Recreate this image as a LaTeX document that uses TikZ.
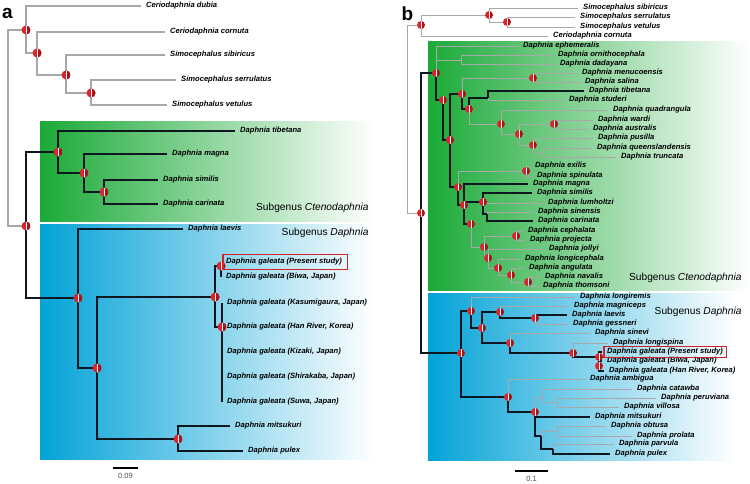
\documentclass[tikz,border=0pt]{standalone}
\usepackage{fontspec}
\setmainfont{Liberation Sans}
\definecolor{ppred}{HTML}{D8262C}
\definecolor{ppdark}{HTML}{A5161C}
\definecolor{gbranch}{HTML}{A8A8A8}
\definecolor{kbranch}{HTML}{0E1620}
\definecolor{ctgreen}{HTML}{1BAA38}
\definecolor{dpblue}{HTML}{03A3D7}
\definecolor{boxred}{HTML}{D2232A}
\tikzset{
  gb/.style={draw=gbranch, line width=1.1pt},
  kb/.style={draw=kbranch, line width=1.5pt},
  pp/.style={circle, inner sep=0pt, minimum size=8pt, fill=ppred, path picture={
      \fill[ppdark] ([xshift=0.6pt]path picture bounding box.north) rectangle (path picture bounding box.south east);
      \draw[white, line width=0.5pt] ([xshift=0.6pt]path picture bounding box.north) -- ([xshift=0.6pt]path picture bounding box.south);}},
  lf/.style={anchor=west, inner xsep=5pt, inner ysep=1pt, font=\fontsize{7.6}{8}\selectfont\bfseries\itshape},
  sg/.style={anchor=east, font=\fontsize{10.2}{12}\selectfont},
  redbox/.style={draw=boxred, line width=1.1pt},
}
\begin{document}
\begin{tikzpicture}[x=1pt, y=-1pt]
	\useasboundingbox (0,0) rectangle (750,483);
	% backgrounds
	\shade[left color=ctgreen, right color=white] (40,121) rectangle (375,221);
	\shade[left color=dpblue, right color=white] (40,224) rectangle (375,459);
	\shade[left color=ctgreen, right color=white] (428,41) rectangle (750,290);
	\shade[left color=dpblue, right color=white] (428,293) rectangle (735,460);

	% ---- a ----
	\node[font=\fontsize{19}{19}\selectfont\bfseries] (pa) at (7.5,13.5) {a};
	\coordinate (aRoot) at (8,128);
	\coordinate (aO1) at (26,30);   \coordinate (aO2) at (37,53);
	\coordinate (aO3) at (66,75);   \coordinate (aO4) at (91,93);
	\coordinate (aDG) at (26,226);
	\coordinate (aC1) at (58,152);  \coordinate (aC2) at (84,173);  \coordinate (aC3) at (104,192);
	\coordinate (aD1) at (78,298);  \coordinate (aD2) at (97,368);  \coordinate (aD3) at (215,297);
	\coordinate (aD4) at (178,439); \coordinate (aD5) at (221,266); \coordinate (aD6) at (222,327);

	\node[lf] (aDub) at (141,6) {Ceriodaphnia dubia};
	\node[lf] (aCor) at (165,32) {Ceriodaphnia cornuta};
	\node[lf] (aSib) at (165,55) {Simocephalus sibiricus};
	\node[lf] (aSer) at (176,80) {Simocephalus serrulatus};
	\node[lf] (aVet) at (167,105) {Simocephalus vetulus};
	\node[lf] (aTib) at (235,131) {Daphnia tibetana};
	\node[lf] (aMag) at (167,154) {Daphnia magna};
	\node[lf] (aSim) at (158,180) {Daphnia similis};
	\node[lf] (aCar) at (158,204) {Daphnia carinata};
	\node[lf] (aLae) at (183,229) {Daphnia laevis};
	\node[lf] (aPre) at (221,262) {Daphnia galeata (Present study)};
	\node[lf] (aBiw) at (221,277) {Daphnia galeata (Biwa, Japan)};
	\node[lf] (aKas) at (222,303) {Daphnia galeata (Kasumigaura, Japan)};
	\node[lf] (aHan) at (222,327) {Daphnia galeata (Han River, Korea)};
	\node[lf] (aKiz) at (222,352) {Daphnia galeata (Kizaki, Japan)};
	\node[lf] (aShi) at (222,377) {Daphnia galeata (Shirakaba, Japan)};
	\node[lf] (aSuw) at (222,402) {Daphnia galeata (Suwa, Japan)};
	\node[lf] (aMit) at (230,426) {Daphnia mitsukuri};
	\node[lf] (aPul) at (243,451) {Daphnia pulex};

	\draw[gb] (aRoot) |- (aO1) (aRoot) |- (aDG)
		(aO1) |- (aDub.west) (aO1) |- (aO2) (aO2) |- (aCor.west) (aO2) |- (aO3)
		(aO3) |- (aSib.west) (aO3) |- (aO4) (aO4) |- (aSer.west) (aO4) |- (aVet.west);
	\draw[kb] (aDG) |- (aC1) (aDG) |- (aD1)
		(aC1) |- (aTib.west) (aC1) |- (aC2) (aC2) |- (aMag.west) (aC2) |- (aC3)
		(aC3) |- (aSim.west) (aC3) |- (aCar.west)
		(aD1) |- (aLae.west) (aD1) |- (aD2) (aD2) |- (aD3) (aD2) |- (aD4)
		(aD3) |- (aD5) (aD3) |- (aD6) (aD5) |- (aPre.west) (aD5) |- (aBiw.west)
		(aD6) |- (aKas.west) (aD6) |- (aHan.west) (aD6) |- (aKiz.west)
		(aD6) |- (aShi.west) (aD6) |- (aSuw.west)
		(aD4) |- (aMit.west) (aD4) |- (aPul.west);
	\foreach \n in {aO1,aO2,aO3,aO4,aDG,aC1,aC2,aC3,aD1,aD2,aD3,aD4,aD5,aD6}
		\node[pp, minimum size=9pt] (m\n) at (\n) {};
	\draw[redbox] ([xshift=2pt,yshift=-2.5pt]aPre.south west) rectangle ([yshift=2.5pt]aPre.north east);

	\node[sg] (aSgC) at (372,208) {Subgenus \textit{Ctenodaphnia}};
	\node[sg] (aSgD) at (372,233) {Subgenus \textit{Daphnia}};

	\coordinate (aS1) at (113,468); \coordinate (aS2) at (138,468);
	\draw[line width=1.2pt] (aS1) -- (aS2) node[midway, below=1.5pt, text=black!70, font=\fontsize{7.5}{8}\selectfont] (aScl) {0.09};

	% ---- b ----
	\node[font=\fontsize{19}{19}\selectfont\bfseries] (pb) at (407.5,13.5) {b};
	\coordinate (bRoot) at (407,119);
	\coordinate (bB1) at (421,25);  \coordinate (bB2) at (489,15);  \coordinate (bB3) at (507,22);
	\coordinate (bB0) at (421,213);
	\coordinate (bG1) at (436,73);  \coordinate (bOD) at (461,60);  \coordinate (bG2) at (443,100);
	\coordinate (bG3) at (450,140); \coordinate (bT1) at (462,94);  \coordinate (bM) at (533,78);
	\coordinate (bT2) at (469,109); \coordinate (bTS) at (488,98);  \coordinate (bQ1) at (501,124);
	\coordinate (bQ2) at (519,134); \coordinate (bWA) at (554,124); \coordinate (bQ3) at (533,145);
	\coordinate (bQT) at (543,152); \coordinate (bC1) at (458,187); \coordinate (bEX) at (526,171);
	\coordinate (bC2) at (464,205); \coordinate (bSL) at (483,202); \coordinate (bSC) at (487,214);
	\coordinate (bC3) at (471,224); \coordinate (bP1) at (484,247); \coordinate (bCP) at (516,236);
	\coordinate (bP2) at (488,258); \coordinate (bP3) at (498,268); \coordinate (bP4) at (511,275);
	\coordinate (bP5) at (528,282);
	\coordinate (bH1) at (461,353); \coordinate (bL1) at (471,311); \coordinate (bL2) at (482,328);
	\coordinate (bL3) at (500,312); \coordinate (bLG) at (535,318); \coordinate (bL4) at (510,343);
	\coordinate (bL5) at (573,353); \coordinate (bG) at (599,357);  \coordinate (bGB) at (599,366);
	\coordinate (bA1) at (508,397); \coordinate (bA2) at (535,412); \coordinate (bCPV) at (543,397);
	\coordinate (bPV) at (557,402); \coordinate (bA3) at (541,436); \coordinate (bOP) at (557,431);
	\coordinate (bPP) at (553,449);

	\node[lf] (bSib) at (578,8) {Simocephalus sibiricus};
	\node[lf] (bSer) at (575,17) {Simocephalus serrulatus};
	\node[lf] (bVet) at (575,27) {Simocephalus vetulus};
	\node[lf] (bCor) at (548,36) {Ceriodaphnia cornuta};
	\node[lf] (bEph) at (518,46) {Daphnia ephemeralis};
	\node[lf] (bOrn) at (553,55) {Daphnia ornithocephala};
	\node[lf] (bDad) at (555,64) {Daphnia dadayana};
	\node[lf] (bMen) at (577,73) {Daphnia menucoensis};
	\node[lf] (bSal) at (580,82) {Daphnia salina};
	\node[lf] (bTib) at (584,91) {Daphnia tibetana};
	\node[lf] (bStu) at (564,100) {Daphnia studeri};
	\node[lf] (bQua) at (608,110) {Daphnia quadrangula};
	\node[lf] (bWar) at (593,120) {Daphnia wardi};
	\node[lf] (bAus) at (588,129) {Daphnia australis};
	\node[lf] (bPus) at (593,138) {Daphnia pusilla};
	\node[lf] (bQue) at (592,148) {Daphnia queenslandensis};
	\node[lf] (bTru) at (616,157) {Daphnia truncata};
	\node[lf] (bExi) at (530,166) {Daphnia exilis};
	\node[lf] (bSpi) at (532,176) {Daphnia spinulata};
	\node[lf] (bMag) at (528,184) {Daphnia magna};
	\node[lf] (bSim) at (532,193) {Daphnia similis};
	\node[lf] (bLum) at (543,203) {Daphnia lumholtzi};
	\node[lf] (bSin) at (533,212) {Daphnia sinensis};
	\node[lf] (bCar) at (533,221) {Daphnia carinata};
	\node[lf] (bCep) at (523,231) {Daphnia cephalata};
	\node[lf] (bPro) at (525,240) {Daphnia projecta};
	\node[lf] (bJol) at (544,249) {Daphnia jollyi};
	\node[lf] (bLoc) at (520,259) {Daphnia longicephala};
	\node[lf] (bAng) at (524,268) {Daphnia angulata};
	\node[lf] (bNav) at (540,277) {Daphnia navalis};
	\node[lf] (bTho) at (538,286) {Daphnia thomsoni};
	\node[lf] (bLor) at (575,297) {Daphnia longiremis};
	\node[lf] (bMgc) at (569,306) {Daphnia magniceps};
	\node[lf] (bLae) at (567,315) {Daphnia laevis};
	\node[lf] (bGes) at (568,324) {Daphnia gessneri};
	\node[lf] (bSnv) at (590,333) {Daphnia sinevi};
	\node[lf] (bLsp) at (608,343) {Daphnia longispina};
	\node[lf] (bPre) at (602,352) {Daphnia galeata (Present study)};
	\node[lf] (bBiw) at (602,361) {Daphnia galeata (Biwa, Japan)};
	\node[lf] (bHan) at (604,371) {Daphnia galeata (Han River, Korea)};
	\node[lf] (bAmb) at (585,379) {Daphnia ambigua};
	\node[lf] (bCat) at (632,389) {Daphnia catawba};
	\node[lf] (bPer) at (656,398) {Daphnia peruviana};
	\node[lf] (bVil) at (619,407) {Daphnia villosa};
	\node[lf] (bMit) at (590,417) {Daphnia mitsukuri};
	\node[lf] (bObt) at (606,426) {Daphnia obtusa};
	\node[lf] (bPrl) at (632,436) {Daphnia prolata};
	\node[lf] (bPar) at (614,444) {Daphnia parvula};
	\node[lf] (bPul) at (610,454) {Daphnia pulex};

	\draw[gb, line width=1pt] (bRoot) |- (bB1) (bRoot) |- (bB0)
		(bB1) |- (bB2) (bB1) |- (bCor.west) (bB2) |- (bSib.west) (bB2) |- (bB3)
		(bB3) |- (bSer.west) (bB3) |- (bVet.west)
		(bG1) |- (bEph.west) (bG1) |- (bOD) (bOD) |- (bOrn.west) (bOD) |- (bDad.west)
		(bT1) |- (bM) (bM) |- (bMen.west) (bM) |- (bSal.west) (bTS) |- (bStu.west)
		(bT2) |- (bQ1) (bQ1) |- (bQua.west) (bQ1) |- (bQ2) (bQ2) |- (bWA)
		(bWA) |- (bWar.west) (bWA) |- (bAus.west) (bQ2) |- (bQ3) (bQ3) |- (bPus.west)
		(bQ3) |- (bQT) (bQT) |- (bQue.west) (bQT) |- (bTru.west)
		(bC1) |- (bEX) (bEX) |- (bExi.west) (bEX) |- (bSpi.west)
		(bSL) |- (bLum.west) (bSC) |- (bSin.west)
		(bC3) |- (bP1) (bP1) |- (bCP) (bCP) |- (bCep.west) (bCP) |- (bPro.west)
		(bP1) |- (bP2) (bP2) |- (bJol.west) (bP2) |- (bP3) (bP3) |- (bLoc.west)
		(bP3) |- (bP4) (bP4) |- (bAng.west) (bP4) |- (bP5) (bP5) |- (bNav.west) (bP5) |- (bTho.west)
		(bL1) |- (bLor.west) (bL3) |- (bMgc.west) (bLG) |- (bGes.west) (bL4) |- (bSnv.west)
		(bL5) |- (bLsp.west) (bA1) |- (bAmb.west) (bA2) |- (bCPV)
		(bCPV) |- (bCat.west) (bCPV) |- (bPV) (bPV) |- (bPer.west) (bPV) |- (bVil.west)
		(bA3) |- (bOP) (bOP) |- (bObt.west) (bOP) |- (bPrl.west) (bPP) |- (bPar.west);
	\draw[kb, line width=1.4pt] (bB0) |- (bG1) (bB0) |- (bH1)
		(bG1) |- (bG2) (bG2) |- (bG3) (bG3) |- (bT1) (bG3) |- (bC1)
		(bT1) |- (bT2) (bT2) |- (bTS) (bTS) |- (bTib.west)
		(bC1) |- (bC2) (bC2) |- (bMag.west) (bC2) |- (bSL) (bC2) |- (bC3)
		(bSL) |- (bSim.west) (bSL) |- (bSC) (bSC) |- (bCar.west)
		(bH1) |- (bL1) (bH1) |- (bA1) (bL1) |- (bL2) (bL2) |- (bL3) (bL2) |- (bL4)
		(bL3) |- (bLG) (bLG) |- (bLae.west) (bL4) |- (bL5) (bL5) |- (bG)
		(bG) |- (bPre.west) (bG) |- (bGB) (bGB) |- (bBiw.west) (bGB) |- (bHan.west)
		(bA1) |- (bA2) (bA2) |- (bMit.west) (bA2) |- (bA3) (bA3) |- (bPP) (bPP) |- (bPul.west);
	\foreach \n in {bB1,bB2,bB3,bB0,bG1,bG2,bG3,bT1,bM,bT2,bQ1,bQ2,bWA,bQ3,bC1,bEX,bC2,bSL,bC3,
			bP1,bCP,bP2,bP3,bP4,bP5,bH1,bL1,bL2,bL3,bLG,bL4,bL5,bG,bGB,bA1,bA2}
		\node[pp] (m\n) at (\n) {};
	\draw[redbox] ([xshift=2pt,yshift=-1pt]bPre.south west) rectangle ([xshift=-2pt,yshift=1pt]bPre.north east);

	\node[sg] (bSgC) at (745,278) {Subgenus \textit{Ctenodaphnia}};
	\node[sg] (bSgD) at (745,312) {Subgenus \textit{Daphnia}};

	\coordinate (bS1) at (515,471); \coordinate (bS2) at (548,471);
	\draw[line width=1.2pt] (bS1) -- (bS2) node[midway, below=1pt, text=black!70, font=\fontsize{7.5}{8}\selectfont] (bScl) {0.1};
\end{tikzpicture}
\end{document}
